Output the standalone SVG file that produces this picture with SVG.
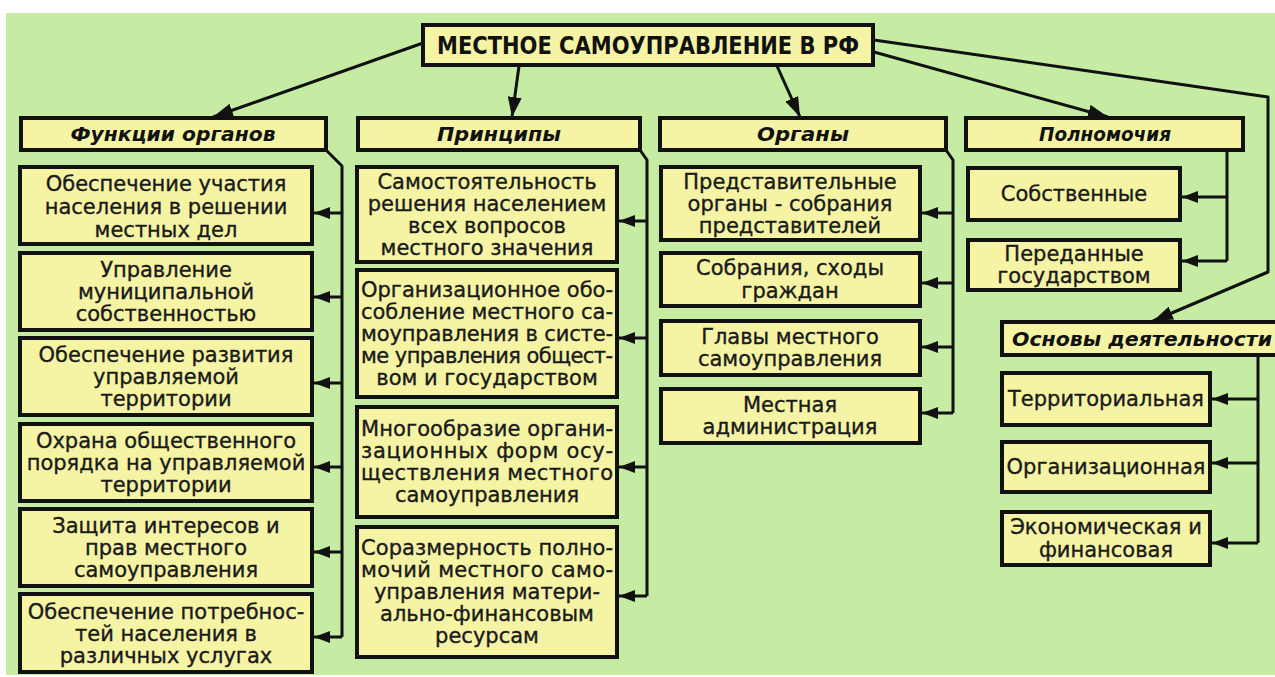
<svg xmlns="http://www.w3.org/2000/svg" width="1275" height="677" viewBox="0 0 1275 677">
<style>
.box{fill:#f5f4a4;stroke:#111;stroke-width:4}
.hdr{fill:#f5f4a4;stroke:#111;stroke-width:4}
.t{font-family:"DejaVu Sans","Liberation Sans",sans-serif;font-size:21px;fill:#1a1a1a;stroke:#1a1a1a;stroke-width:0.35;text-anchor:middle}
.tj{font-family:"DejaVu Sans","Liberation Sans",sans-serif;font-size:21px;fill:#1a1a1a;stroke:#1a1a1a;stroke-width:0.35}
.h{font-family:"DejaVu Sans","Liberation Sans",sans-serif;font-size:19px;font-weight:bold;font-style:italic;fill:#111;text-anchor:middle}
.m{font-family:"DejaVu Sans Condensed","DejaVu Sans","Liberation Sans",sans-serif;font-size:25px;font-weight:bold;fill:#111;text-anchor:middle}
.ln{fill:none;stroke:#111;stroke-width:3;stroke-linejoin:round}
.br{stroke:#111;stroke-width:3;marker-end:url(#ah)}
.big{fill:none;stroke:#111;stroke-width:3;stroke-linejoin:round;marker-end:url(#ah2)}
</style>
<defs>
<marker id="ah" markerUnits="userSpaceOnUse" markerWidth="16" markerHeight="12" refX="16" refY="6" orient="auto"><path d="M0,0 L16,6 L0,12 z" fill="#111"/></marker>
<marker id="ah2" markerUnits="userSpaceOnUse" markerWidth="20" markerHeight="14" refX="20" refY="7" orient="auto"><path d="M0,0 L20,7 L0,14 z" fill="#111"/></marker>
</defs>
<rect x="0" y="0" width="1275" height="677" fill="#ffffff"/>
<rect x="6" y="13" width="1269" height="662" fill="#c5eca2"/>

<g id="connectors">
<line class="big" x1="423" y1="43" x2="213" y2="117"/>
<line class="big" x1="519" y1="66" x2="512" y2="117"/>
<line class="big" x1="777" y1="66" x2="800" y2="117"/>
<line class="big" x1="874" y1="52" x2="1108" y2="117"/>
<polyline class="big" points="874,40 1268,97 1268,272 1153,321"/>
<path class="ln" d="M326,150 L342,166 L342,637"/>
<line class="br" x1="342" y1="213" x2="314" y2="213"/>
<line class="br" x1="342" y1="297" x2="314" y2="297"/>
<line class="br" x1="342" y1="383" x2="314" y2="383"/>
<line class="br" x1="342" y1="467" x2="314" y2="467"/>
<line class="br" x1="342" y1="552" x2="314" y2="552"/>
<line class="br" x1="342" y1="637" x2="314" y2="637"/>
<path class="ln" d="M640,150 L647,160 L647,596"/>
<line class="br" x1="647" y1="221" x2="619" y2="221"/>
<line class="br" x1="647" y1="338" x2="619" y2="338"/>
<line class="br" x1="647" y1="467" x2="619" y2="467"/>
<line class="br" x1="647" y1="596" x2="619" y2="596"/>
<path class="ln" d="M946,150 L953,160 L953,413"/>
<line class="br" x1="953" y1="213" x2="922" y2="213"/>
<line class="br" x1="953" y1="283" x2="922" y2="283"/>
<line class="br" x1="953" y1="347" x2="922" y2="347"/>
<line class="br" x1="953" y1="413" x2="922" y2="413"/>
<path class="ln" d="M1227,150 L1227,261"/>
<line class="br" x1="1227" y1="197" x2="1182" y2="197"/>
<line class="br" x1="1227" y1="261" x2="1182" y2="261"/>
<path class="ln" d="M1258,355 L1258,543"/>
<line class="br" x1="1258" y1="399" x2="1212" y2="399"/>
<line class="br" x1="1258" y1="463" x2="1212" y2="463"/>
<line class="br" x1="1258" y1="543" x2="1212" y2="543"/>
</g>

<g id="root"><rect class="box" x="423" y="25" width="450" height="40"/><text class="m" x="648" y="54" textLength="422" lengthAdjust="spacingAndGlyphs">МЕСТНОЕ САМОУПРАВЛЕНИЕ В РФ</text></g>

<g id="h-functions"><rect class="hdr" x="21" y="118" width="305" height="32"/><text class="h" x="173" y="141" textLength="205" lengthAdjust="spacingAndGlyphs">Функции органов</text></g>
<g id="h-principles"><rect class="hdr" x="358" y="118" width="282" height="32"/><text class="h" x="499" y="141" textLength="124" lengthAdjust="spacingAndGlyphs">Принципы</text></g>
<g id="h-organs"><rect class="hdr" x="660" y="118" width="286" height="32"/><text class="h" x="803" y="141" textLength="92" lengthAdjust="spacingAndGlyphs">Органы</text></g>
<g id="h-powers"><rect class="hdr" x="966" y="118" width="277" height="32"/><text class="h" x="1105" y="141" textLength="132" lengthAdjust="spacingAndGlyphs">Полномочия</text></g>
<g id="h-basics"><rect class="hdr" x="1002" y="322" width="285" height="33"/><text class="h" x="1012" y="346" style="text-anchor:start" textLength="260" lengthAdjust="spacingAndGlyphs">Основы деятельности</text></g>

<g id="f1"><rect class="box" x="20" y="167" width="292" height="77"/><text class="t" x="166" y="191">Обеспечение участия</text><text class="t" x="166" y="214">населения в решении</text><text class="t" x="166" y="237">местных дел</text></g>
<g id="f2"><rect class="box" x="20" y="253" width="292" height="77"/><text class="t" x="166" y="277">Управление</text><text class="t" x="166" y="299">муниципальной</text><text class="t" x="166" y="321">собственностью</text></g>
<g id="f3"><rect class="box" x="20" y="338" width="292" height="77"/><text class="t" x="166" y="362">Обеспечение развития</text><text class="t" x="166" y="384">управляемой</text><text class="t" x="166" y="406">территории</text></g>
<g id="f4"><rect class="box" x="20" y="424" width="292" height="77"/><text class="t" x="166" y="448">Охрана общественного</text><text class="t" x="166" y="470">порядка на управляемой</text><text class="t" x="166" y="492">территории</text></g>
<g id="f5"><rect class="box" x="20" y="509" width="292" height="77"/><text class="t" x="166" y="533">Защита интересов и</text><text class="t" x="166" y="555">прав местного</text><text class="t" x="166" y="577">самоуправления</text></g>
<g id="f6"><rect class="box" x="20" y="594" width="292" height="78"/><text class="t" x="166" y="619">Обеспечение потребнос-</text><text class="t" x="166" y="641">тей населения в</text><text class="t" x="166" y="663">различных услугах</text></g>

<g id="p1"><rect class="box" x="357" y="167" width="260" height="95"/><text class="t" x="487" y="189">Самостоятельность</text><text class="t" x="487" y="211">решения населением</text><text class="t" x="487" y="233">всех вопросов</text><text class="t" x="487" y="255">местного значения</text></g>
<g id="p2"><rect class="box" x="357" y="270" width="260" height="127"/><text class="tj" x="361" y="297" textLength="252" lengthAdjust="spacing">Организационное обо-</text><text class="tj" x="361" y="319" textLength="252" lengthAdjust="spacing">собление местного са-</text><text class="tj" x="361" y="341" textLength="252" lengthAdjust="spacing">моуправления в систе-</text><text class="tj" x="361" y="363" textLength="252" lengthAdjust="spacing">ме управления общест-</text><text class="t" x="487" y="385">вом и государством</text></g>
<g id="p3"><rect class="box" x="357" y="407" width="260" height="110"/><text class="tj" x="361" y="436" textLength="252" lengthAdjust="spacing">Многообразие органи-</text><text class="tj" x="361" y="458" textLength="252" lengthAdjust="spacing">зационных форм осу-</text><text class="tj" x="361" y="480" textLength="252" lengthAdjust="spacing">ществления местного</text><text class="t" x="487" y="502">самоуправления</text></g>
<g id="p4"><rect class="box" x="357" y="527" width="260" height="130"/><text class="tj" x="361" y="555" textLength="252" lengthAdjust="spacing">Соразмерность полно-</text><text class="tj" x="361" y="577" textLength="252" lengthAdjust="spacing">мочий местного само-</text><text class="t" x="487" y="599">управления матери-</text><text class="t" x="487" y="621">ально-финансовым</text><text class="t" x="487" y="643">ресурсам</text></g>

<g id="o1"><rect class="box" x="661" y="167" width="259" height="73"/><text class="t" x="790" y="189">Представительные</text><text class="t" x="790" y="211">органы - собрания</text><text class="t" x="790" y="233">представителей</text></g>
<g id="o2"><rect class="box" x="661" y="253" width="259" height="53"/><text class="t" x="790" y="275">Собрания, сходы</text><text class="t" x="790" y="298">граждан</text></g>
<g id="o3"><rect class="box" x="661" y="321" width="259" height="54"/><text class="t" x="790" y="344">Главы местного</text><text class="t" x="790" y="366">самоуправления</text></g>
<g id="o4"><rect class="box" x="661" y="389" width="259" height="54"/><text class="t" x="790" y="412">Местная</text><text class="t" x="790" y="434">администрация</text></g>

<g id="w1"><rect class="box" x="968" y="168" width="212" height="52"/><text class="t" x="1074" y="201">Собственные</text></g>
<g id="w2"><rect class="box" x="968" y="240" width="212" height="50"/><text class="t" x="1074" y="261">Переданные</text><text class="t" x="1074" y="283">государством</text></g>

<g id="b1"><rect class="box" x="1002" y="373" width="208" height="52"/><text class="t" x="1106" y="406">Территориальная</text></g>
<g id="b2"><rect class="box" x="1002" y="442" width="208" height="50"/><text class="t" x="1106" y="474">Организационная</text></g>
<g id="b3"><rect class="box" x="1002" y="512" width="208" height="53"/><text class="t" x="1106" y="534">Экономическая и</text><text class="t" x="1106" y="557">финансовая</text></g>
</svg>
